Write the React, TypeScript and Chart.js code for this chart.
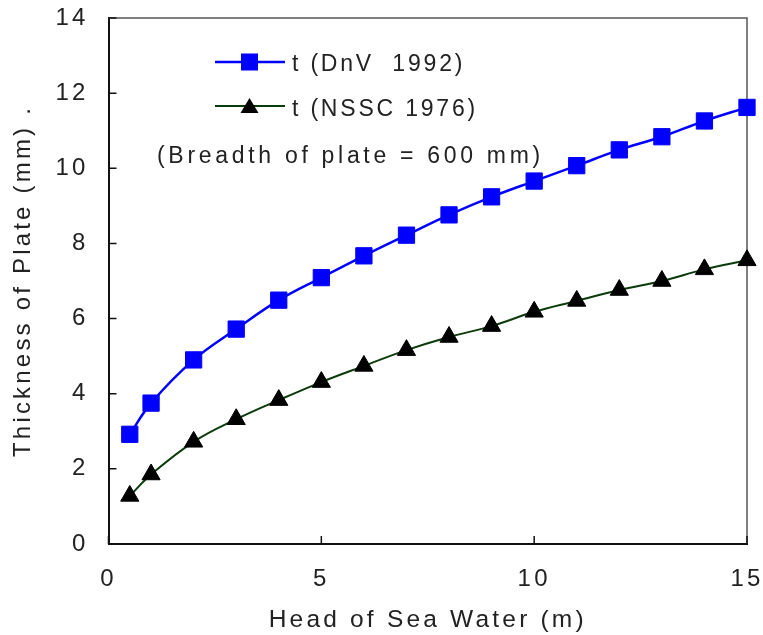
import React, { useEffect, useRef } from 'react';
import { Chart, registerables } from 'chart.js';

Chart.register(...registerables);

// Head of sea water (m)
const headOfSeaWater = [0.5, 1, 2, 3, 4, 5, 6, 7, 8, 9, 10, 11, 12, 13, 14, 15];
// Thickness of plate (mm), DnV 1992
const dnv1992 = [2.92, 3.75, 4.9, 5.72, 6.49, 7.09, 7.67, 8.22, 8.76, 9.24, 9.66, 10.07, 10.49, 10.84, 11.26, 11.62];
// Thickness of plate (mm), NSSC 1976
const nssc1976 = [1.28, 1.85, 2.72, 3.32, 3.83, 4.31, 4.74, 5.16, 5.51, 5.8, 6.18, 6.47, 6.76, 7.0, 7.31, 7.55];

const seriesLabels = ['t (DnV  1992)', 't (NSSC 1976)'];
const noteText = '(Breadth of plate = 600 mm)';
const xTitle = 'Head of Sea Water (m)';
const yTitle = 'Thickness of Plate (mm) .';

const FONT = "'Liberation Sans', Arial, sans-serif";
const TEXT = '#222';

const overlayPlugin = {
  id: 'overlay',
  beforeDraw(chart: any) {
    chart.ctx.letterSpacing = '3.2px';
  },
  beforeDatasetsDraw(chart: any) {
    const { ctx, chartArea: a, scales } = chart;
    ctx.save();
    ctx.strokeStyle = '#555';
    ctx.lineWidth = 1.5;
    ctx.beginPath();
    ctx.moveTo(a.left, a.top);
    ctx.lineTo(a.right, a.top);
    ctx.lineTo(a.right, a.bottom);
    ctx.stroke();
    ctx.strokeStyle = '#111';
    ctx.lineWidth = 1.5;
    ctx.beginPath();
    scales.x.ticks.forEach((t: any) => {
      const px = scales.x.getPixelForValue(t.value);
      ctx.moveTo(px, a.bottom);
      ctx.lineTo(px, a.bottom - 8);
    });
    scales.y.ticks.forEach((t: any) => {
      const py = scales.y.getPixelForValue(t.value);
      ctx.moveTo(a.left, py);
      ctx.lineTo(a.left + 8, py);
    });
    ctx.stroke();
    ctx.restore();
  },
  afterDatasetsDraw(chart: any) {
    const { ctx } = chart;
    const ds = chart.data.datasets;
    ctx.save();
    const rows = [
      { y: 62, baseline: 71 },
      { y: 106, baseline: 116 },
    ];
    rows.forEach((r, i) => {
      const d = ds[i];
      ctx.strokeStyle = d.borderColor;
      ctx.lineWidth = d.borderWidth;
      ctx.beginPath();
      ctx.moveTo(215, r.y);
      ctx.lineTo(285, r.y);
      ctx.stroke();
      ctx.fillStyle = d.pointBackgroundColor;
      if (i === 0) {
        ctx.fillRect(241, r.y - 8.5, 17, 17);
      } else {
        ctx.beginPath();
        ctx.moveTo(249.5, r.y - 8);
        ctx.lineTo(258.5, r.y + 7);
        ctx.lineTo(240.5, r.y + 7);
        ctx.closePath();
        ctx.fill();
      }
      ctx.fillStyle = TEXT;
      ctx.font = `23px ${FONT}`;
      ctx.letterSpacing = '2.8px';
      ctx.textAlign = 'left';
      ctx.textBaseline = 'alphabetic';
      ctx.fillText(seriesLabels[i], 292, r.baseline);
    });
    ctx.font = `23px ${FONT}`;
    ctx.letterSpacing = '3.7px';
    ctx.fillStyle = TEXT;
    ctx.textAlign = 'left';
    ctx.textBaseline = 'alphabetic';
    ctx.fillText(noteText, 157, 163);
    ctx.restore();
  },
};

const clearPad = (s: any) => {
  s.paddingTop = 0;
  s.paddingBottom = 0;
  s.paddingLeft = 0;
  s.paddingRight = 0;
};

export default function App() {
  const ref = useRef<HTMLCanvasElement | null>(null);
  useEffect(() => {
    if (!ref.current) return;
    const chart = new Chart(ref.current, {
      type: 'line',
      data: {
        datasets: [
          {
            label: seriesLabels[0],
            data: headOfSeaWater.map((x, i) => ({ x, y: dnv1992[i] })),
            borderColor: '#0000ff',
            borderWidth: 2.5,
            pointStyle: 'rect',
            pointRadius: 11.5,
            pointBackgroundColor: '#0000ff',
            pointBorderColor: '#0000ff',
            pointBorderWidth: 1,
            tension: 0.4,
            clip: false,
          },
          {
            label: seriesLabels[1],
            data: headOfSeaWater.map((x, i) => ({ x, y: nssc1976[i] })),
            borderColor: '#0b3b0b',
            borderWidth: 2,
            pointStyle: 'triangle',
            pointRadius: 10.5,
            pointBackgroundColor: '#000000',
            pointBorderColor: '#000000',
            pointBorderWidth: 1,
            tension: 0.4,
            clip: false,
          },
        ],
      },
      options: {
        responsive: false,
        animation: false,
        devicePixelRatio: 1,
        layout: { padding: { left: 0, right: 16, top: 18, bottom: 0 } },
        plugins: {
          legend: { display: false },
          tooltip: { enabled: false },
        },
        scales: {
          x: {
            type: 'linear',
            min: 0,
            max: 15,
            ticks: { stepSize: 5, padding: 21, color: TEXT, font: { family: FONT, size: 24 } },
            grid: { display: false, drawTicks: false },
            border: { display: true, color: '#111', width: 2 },
            title: {
              display: true,
              text: xTitle,
              color: TEXT,
              font: { family: FONT, size: 24.5 },
              padding: { top: 0, bottom: 0 },
            },
            afterFit: (s: any) => {
              s.height = 91;
              clearPad(s);
            },
          },
          y: {
            type: 'linear',
            min: 0,
            max: 14,
            ticks: { stepSize: 2, padding: 20, color: TEXT, font: { family: FONT, size: 24 } },
            grid: { display: false, drawTicks: false },
            border: { display: true, color: '#111', width: 2 },
            title: {
              display: true,
              text: yTitle,
              color: TEXT,
              font: { family: FONT, size: 24 },
              padding: { top: 9, bottom: 0 },
            },
            afterFit: (s: any) => {
              s.width = 108.5;
              clearPad(s);
            },
          },
        },
      },
      plugins: [overlayPlugin],
    } as any);
    return () => chart.destroy();
  }, []);
  return (
    <div style={{ position: 'absolute', left: 0, top: 0, width: 763, height: 635, background: '#fff' }}>
      <canvas ref={ref} width={763} height={635} />
    </div>
  );
}
